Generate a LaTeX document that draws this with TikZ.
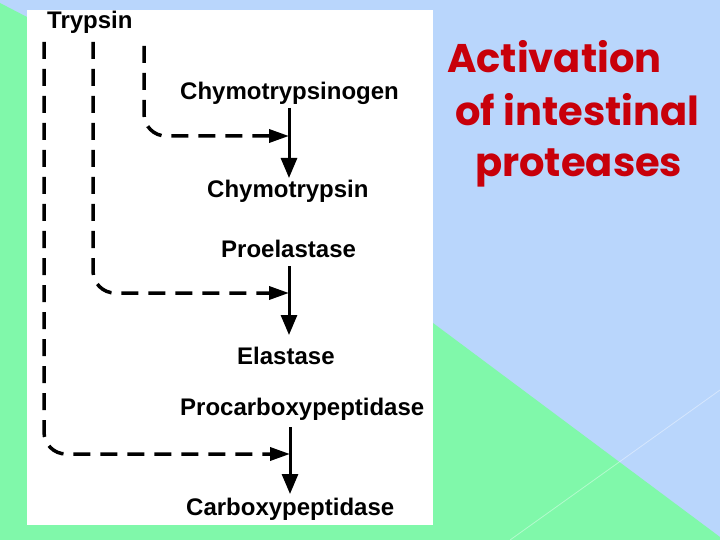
\documentclass[tikz,border=0pt]{standalone}
\usepackage{fontspec}
\setmainfont{Liberation Sans}
\newfontfamily\titlefont{Poppins}
\usetikzlibrary{arrows.meta}
\definecolor{bgblue}{RGB}{185,214,252}
\definecolor{bggreen}{RGB}{128,248,170}
\definecolor{titlered}{RGB}{200,0,10}
\begin{document}
\begin{tikzpicture}[x=1pt,y=-1pt,
 lbl/.style={anchor=base west, inner sep=0pt, font=\fontsize{24}{24}\selectfont\bfseries},
 ttl/.style={anchor=base west, inner sep=0pt, text=titlered, font=\titlefont\fontsize{40}{40}\selectfont\bfseries},
 dashline/.style={line width=3.5pt, dash pattern=on 17pt off 10pt, rounded corners=22pt, -{Triangle[length=20pt,width=13pt]}},
 solidarrow/.style={line width=3pt, -{Triangle[length=20pt,width=16pt]}}]
\useasboundingbox (0,0) rectangle (720,540);
\fill[bgblue] (0,0) rectangle (720,540);
\fill[bggreen] (0,3) -- (27,17) -- (433,323) -- (720,537) -- (720,540) -- (0,540) -- cycle;
\draw[white, opacity=0.4, line width=0.8pt] (510,540) -- (720,390);
\fill[white] (27,10) rectangle (433,525);
% labels
\node[lbl] (tryp) at (47,29) {Trypsin};
\node[lbl] (chtg) at (180,100) {Chymotrypsinogen};
\node[lbl] (cht) at (207,198) {Chymotrypsin};
\node[lbl] (proel) at (221,257) {Proelastase};
\node[lbl] (el) at (237,364) {Elastase};
\node[lbl] (procp) at (180,415) {Procarboxypeptidase};
\node[lbl] (cp) at (186,515) {Carboxypeptidase};
% title
\node[ttl] (t1) at (447,73) {Activation};
\node[ttl] (t2) at (455,126) {of intestinal};
\node[ttl] (t3) at (475,177) {proteases};
% coordinates
\coordinate (s1) at (44,42);
\coordinate (s2) at (93,42);
\coordinate (s3) at (144,46);
\coordinate (j1) at (289,136);
\coordinate (j2) at (289,293);
\coordinate (j3) at (290,454);
\coordinate (v1a) at (289,108);
\coordinate (v1b) at (289,178);
\coordinate (v2a) at (289,266);
\coordinate (v2b) at (289,335);
\coordinate (v3a) at (290,427);
\coordinate (v3b) at (290,494);
% solid arrows
\draw[solidarrow] (v1a) -- (v1b);
\draw[solidarrow] (v2a) -- (v2b);
\draw[solidarrow] (v3a) -- (v3b);
% dashed activation arrows
\draw[dashline] (s3) |- (j1);
\draw[dashline] (s2) |- (j2);
\draw[dashline] (s1) |- (j3);
\end{tikzpicture}
\end{document}
